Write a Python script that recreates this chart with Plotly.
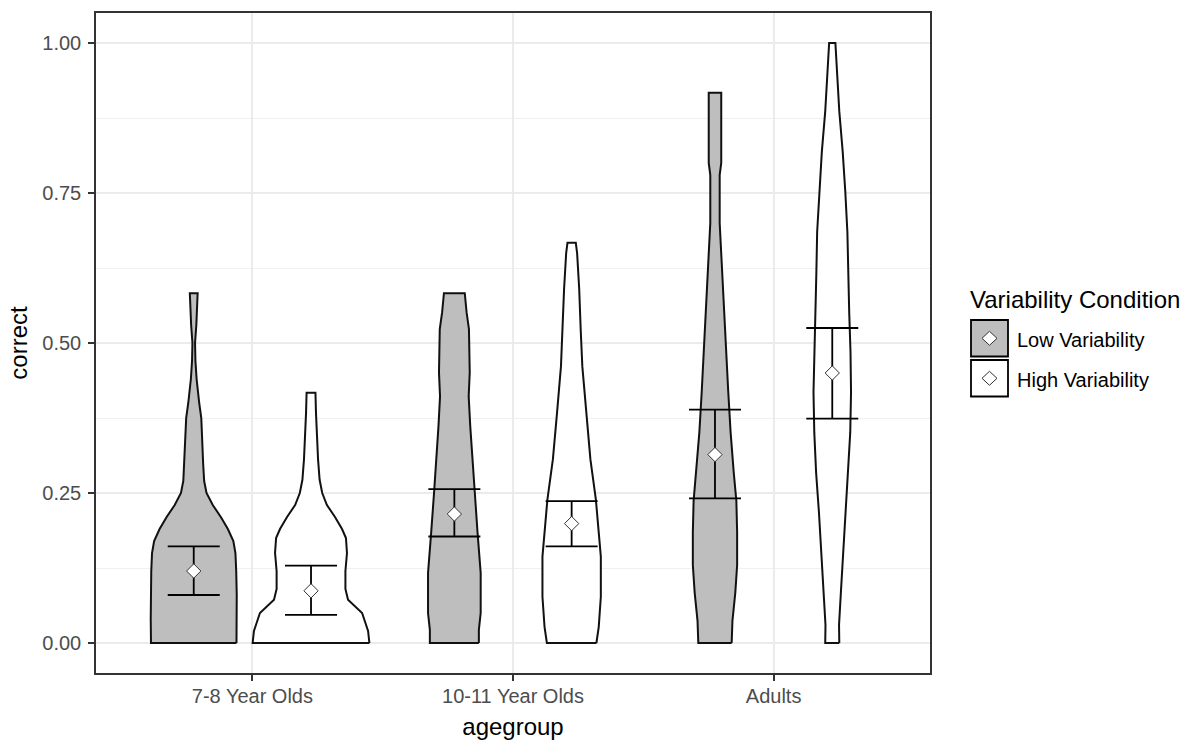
import numpy as np
import plotly.graph_objects as go

# ---------------- data ----------------
categories = ["7-8 Year Olds", "10-11 Year Olds", "Adults"]
conditions = ["Low Variability", "High Variability"]

# violin density profiles: y levels and half-widths (x-axis units)
low_78_y = [0.000, 0.040, 0.080, 0.120, 0.150, 0.170, 0.190, 0.210, 0.230, 0.250, 0.270,
            0.300, 0.330, 0.375, 0.400, 0.420, 0.440, 0.470, 0.500, 0.530, 0.560, 0.583]
low_78_w = [0.164, 0.165, 0.165, 0.163, 0.160, 0.152, 0.131, 0.104, 0.073, 0.049, 0.040,
            0.036, 0.033, 0.029, 0.021, 0.015, 0.011, 0.0065, 0.005, 0.010, 0.014, 0.015]

high_78_y = [0.000, 0.020, 0.050, 0.072, 0.090, 0.120, 0.150, 0.175, 0.190, 0.210, 0.230,
             0.250, 0.272, 0.306, 0.384, 0.417]
high_78_w = [0.224, 0.219, 0.196, 0.142, 0.132, 0.132, 0.138, 0.134, 0.119, 0.092, 0.061,
             0.043, 0.033, 0.027, 0.019, 0.017]

low_1011_y = [0.000, 0.022, 0.050, 0.117, 0.184, 0.250, 0.294, 0.361, 0.411, 0.451, 0.523,
              0.551, 0.583]
low_1011_w = [0.094, 0.094, 0.101, 0.101, 0.089, 0.078, 0.070, 0.061, 0.055, 0.059, 0.056,
              0.047, 0.040]

high_1011_y = [0.000, 0.027, 0.077, 0.144, 0.184, 0.239, 0.306, 0.384, 0.461, 0.520, 0.590,
               0.650, 0.667]
high_1011_w = [0.095, 0.104, 0.112, 0.112, 0.104, 0.093, 0.072, 0.056, 0.041, 0.035, 0.029,
               0.021, 0.016]

low_ad_y = [0.000, 0.037, 0.084, 0.130, 0.184, 0.237, 0.284, 0.351, 0.418, 0.485, 0.538,
            0.585, 0.640, 0.700, 0.780, 0.800, 0.917]
low_ad_w = [0.064, 0.067, 0.078, 0.085, 0.085, 0.082, 0.072, 0.060, 0.051, 0.043, 0.035,
            0.031, 0.025, 0.018, 0.018, 0.024, 0.024]

high_ad_y = [0.000, 0.030, 0.084, 0.150, 0.217, 0.284, 0.351, 0.418, 0.485, 0.551, 0.618,
             0.685, 0.752, 0.819, 0.886, 0.953, 1.000]
high_ad_w = [0.027, 0.026, 0.033, 0.042, 0.051, 0.062, 0.069, 0.072, 0.070, 0.065, 0.061,
             0.058, 0.050, 0.040, 0.027, 0.018, 0.012]

# means and confidence limits per age group
mean_low = [0.120, 0.215, 0.314]
lo_low = [0.080, 0.1775, 0.241]
hi_low = [0.161, 0.2565, 0.389]
mean_high = [0.087, 0.199, 0.450]
lo_high = [0.047, 0.161, 0.374]
hi_high = [0.129, 0.2365, 0.525]

y_ticks = [0.0, 0.25, 0.5, 0.75, 1.0]
y_tick_labels = ["0.00", "0.25", "0.50", "0.75", "1.00"]
y_minor = [0.125, 0.375, 0.625, 0.875]

profiles = {
    (0, 0): (low_78_y, low_78_w), (0, 1): (high_78_y, high_78_w),
    (1, 0): (low_1011_y, low_1011_w), (1, 1): (high_1011_y, high_1011_w),
    (2, 0): (low_ad_y, low_ad_w), (2, 1): (high_ad_y, high_ad_w),
}

# ---------------- style ----------------
FONT = "Liberation Sans, Arial, sans-serif"
FILLS = ["#BEBEBE", "#FFFFFF"]
OFFSETS = [-0.225, 0.225]
OUTLINE = "#111111"

L, R, T, B = 96, 930, 13, 673
W, H = 1194, 744

fig = go.Figure()

for i in range(len(categories)):
    for j in range(len(conditions)):
        ys, ws = profiles[(i, j)]
        cx = i + 1 + OFFSETS[j]
        xs = [cx + w for w in ws] + [cx - w for w in reversed(ws)] + [cx + ws[0]]
        yy = list(ys) + list(reversed(ys)) + [ys[0]]
        fig.add_trace(go.Scatter(
            x=xs, y=yy, mode="lines", fill="toself", fillcolor=FILLS[j],
            line=dict(color=OUTLINE, width=2), showlegend=False, hoverinfo="skip"))

for j, (m, lo, hi) in enumerate([(mean_low, lo_low, hi_low), (mean_high, lo_high, hi_high)]):
    m = np.array(m); lo = np.array(lo); hi = np.array(hi)
    xs = np.arange(1, len(categories) + 1) + OFFSETS[j]
    fig.add_trace(go.Scatter(
        x=xs, y=m, mode="markers",
        marker=dict(symbol="diamond", size=11, color="white",
                    line=dict(color="#333333", width=1)),
        error_y=dict(type="data", symmetric=False, array=hi - m, arrayminus=m - lo,
                     color="black", thickness=1.8, width=26),
        name=conditions[j], showlegend=False))

# ---------------- manual legend ----------------
def px_x(px):
    return (px - L) / (R - L)

def px_y(py):
    return (B - py) / (B - T)

shapes = []
annotations = []
key_tops = [320, 360]
for j, cond in enumerate(conditions):
    t = key_tops[j]
    shapes.append(dict(type="rect", xref="paper", yref="paper",
                       x0=px_x(971), x1=px_x(1008), y0=px_y(t + 36.5), y1=px_y(t),
                       fillcolor=FILLS[j], line=dict(color="black", width=1.8), layer="above"))
    cx, cy = 989.5, t + 18.3
    path = "M {:.5f},{:.5f} L {:.5f},{:.5f} L {:.5f},{:.5f} L {:.5f},{:.5f} Z".format(
        px_x(cx), px_y(cy - 7), px_x(cx + 7.5), px_y(cy),
        px_x(cx), px_y(cy + 7), px_x(cx - 7.5), px_y(cy))
    shapes.append(dict(type="path", xref="paper", yref="paper", path=path,
                       fillcolor="white", line=dict(color="#333333", width=1), layer="above"))
    annotations.append(dict(text=cond, xref="paper", yref="paper", x=px_x(1015), y=px_y(t + 20),
                            xanchor="left", yanchor="middle", showarrow=False,
                            font=dict(family=FONT, size=20, color="black")))

annotations.append(dict(text="Variability Condition", xref="paper", yref="paper",
                        x=px_x(968), y=px_y(299), xanchor="left", yanchor="middle",
                        showarrow=False, font=dict(family=FONT, size=24, color="black")))

fig.update_layout(
    width=W, height=H,
    margin=dict(l=L, r=W - R, t=T, b=H - B, autoexpand=False),
    paper_bgcolor="white", plot_bgcolor="white",
    font=dict(family=FONT),
    showlegend=False,
    shapes=shapes, annotations=annotations,
    xaxis=dict(
        range=[0.4, 3.6], tickmode="array", tickvals=[1, 2, 3], ticktext=categories,
        showgrid=True, gridcolor="#EBEBEB", gridwidth=1.5, zeroline=False,
        showline=True, mirror=True, linecolor="#333333", linewidth=1.5,
        ticks="outside", ticklen=6, tickwidth=1.5, tickcolor="#333333",
        ticklabelstandoff=-2,
        tickfont=dict(family=FONT, size=20, color="#4D4D4D"),
        title=dict(text="agegroup", font=dict(family=FONT, size=24, color="black"), standoff=12),
        automargin=False),
    yaxis=dict(
        range=[-0.05, 1.05], tickmode="array", tickvals=y_ticks, ticktext=y_tick_labels,
        showgrid=True, gridcolor="#EBEBEB", gridwidth=1.5, zeroline=False,
        showline=True, mirror=True, linecolor="#333333", linewidth=1.5,
        ticks="outside", ticklen=6, tickwidth=1.5, tickcolor="#333333",
        ticklabelstandoff=3,
        tickfont=dict(family=FONT, size=20, color="#4D4D4D"),
        minor=dict(tickmode="array", tickvals=y_minor, showgrid=True,
                   gridcolor="#F0F0F0", gridwidth=1, ticks=""),
        title=dict(text="correct", font=dict(family=FONT, size=24, color="black"), standoff=8),
        automargin=False),
)

fig.write_html("out.html", config={"displayModeBar": False},
               post_script="document.body.style.margin='0px';document.body.style.padding='0px';")
